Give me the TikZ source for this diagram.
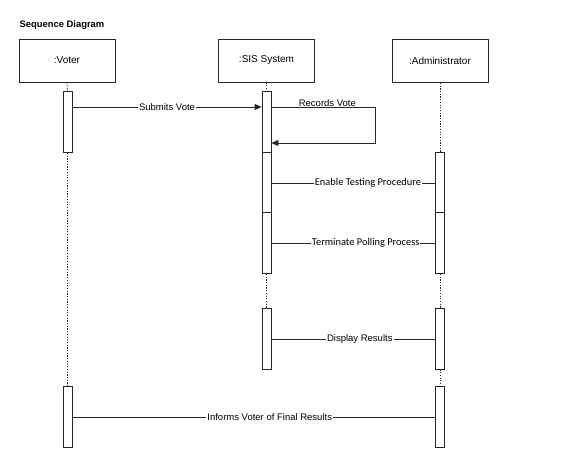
\documentclass[tikz,border=0pt]{standalone}
\usepackage{fontspec}
\setmainfont{Liberation Sans}
\newfontfamily\calibfont{Carlito}
\usetikzlibrary{arrows.meta}

\begin{document}
\begin{tikzpicture}[x=1pt,y=-1pt,
  actor/.style={draw=black!85,line width=0.8pt,minimum width=96pt,minimum height=43pt,
    inner sep=0pt,font=\fontsize{10}{12}\selectfont},
  bar/.style={draw=black!85,fill=white,line width=0.8pt,minimum width=9pt,
    minimum height=61pt,inner sep=0pt},
  life/.style={draw=black!85,line width=0.8pt,dash pattern=on 1.2pt off 1.5pt},
  msg/.style={draw=black!85,line width=0.8pt},
  call/.style={msg,-{Triangle[length=7pt,width=6pt]}},
  lbl/.style={fill=white,inner sep=1pt,font=\fontsize{9.5}{11}\selectfont},
  lblc/.style={fill=white,inner sep=1pt,font=\calibfont\fontsize{10.4}{12}\selectfont}]

% canvas
\path[use as bounding box,fill=white] (0,0) rectangle (571,466);

% title
\node[anchor=west,inner sep=0pt,font=\bfseries\fontsize{9.4}{11}\selectfont] (title) at (19.5,25) {Sequence Diagram};

% participants
\node[actor] (voter) at (67,60.5) {:Voter};
\node[actor] (sis)   at (266.5,60.5) {:SIS System};
\node[actor] (admin) at (440,61) {:Administrator};

% lifelines (drawn first, bars cover them)
\draw[life] (voter.south) -- (67.5,91);
\draw[life] (sis.south) -- (266.5,91);
\draw[life] (admin.south) -- (440,152);

% activation bars
\node[bar] (v1) at (67.5,122) {};
\node[bar] (s1) at (266.5,122) {};
\node[bar] (s2) at (266.5,182.5) {};
\node[bar] (s3) at (266.5,243) {};
\node[bar] (a1) at (440,182.5) {};
\node[bar] (a2) at (440,243) {};
\node[bar] (s4) at (266.5,338.5) {};
\node[bar] (a3) at (440,338.5) {};
\node[bar] (v2) at (67.5,417) {};
\node[bar] (a4) at (440,417) {};

% lifeline segments between bars
\draw[life] (v1.south) -- (v2.north);
\draw[life] (s3.south) -- (s4.north);
\draw[life] (a2.south) -- (a3.north);
\draw[life] (a3.south) -- (a4.north);

% message heights
\coordinate (m1) at (0,107);
\coordinate (m1b) at (0,143);
\coordinate (m2) at (0,183);
\coordinate (m3) at (0,243);
\coordinate (m4) at (0,339);
\coordinate (m5) at (0,417);
\coordinate (loop) at (375,0);

% messages
\draw[call] (v1.east |- m1) -- node[lbl,pos=0.5] {Submits Vote} (s1.west |- m1);
\draw[call] (s1.east |- m1) -- node[lbl,above,inner sep=0.5pt,pos=0.54] {Records Vote} (loop |- m1)
  -- (loop |- m1b) -- (s1.east |- m1b);
\draw[msg] (s2.east |- m2) -- node[lblc,pos=0.59] {Enable Testing Procedure} (a1.west |- m2);
\draw[msg] (s3.east |- m3) -- node[lblc,pos=0.576] {Terminate Polling Process} (a2.west |- m3);
\draw[msg] (s4.east |- m4) -- node[lbl,pos=0.54] {Display Results} (a3.west |- m4);
\draw[msg] (v2.east |- m5) -- node[lbl,pos=0.544] {Informs Voter of Final Results} (a4.west |- m5);
\end{tikzpicture}
\end{document}
